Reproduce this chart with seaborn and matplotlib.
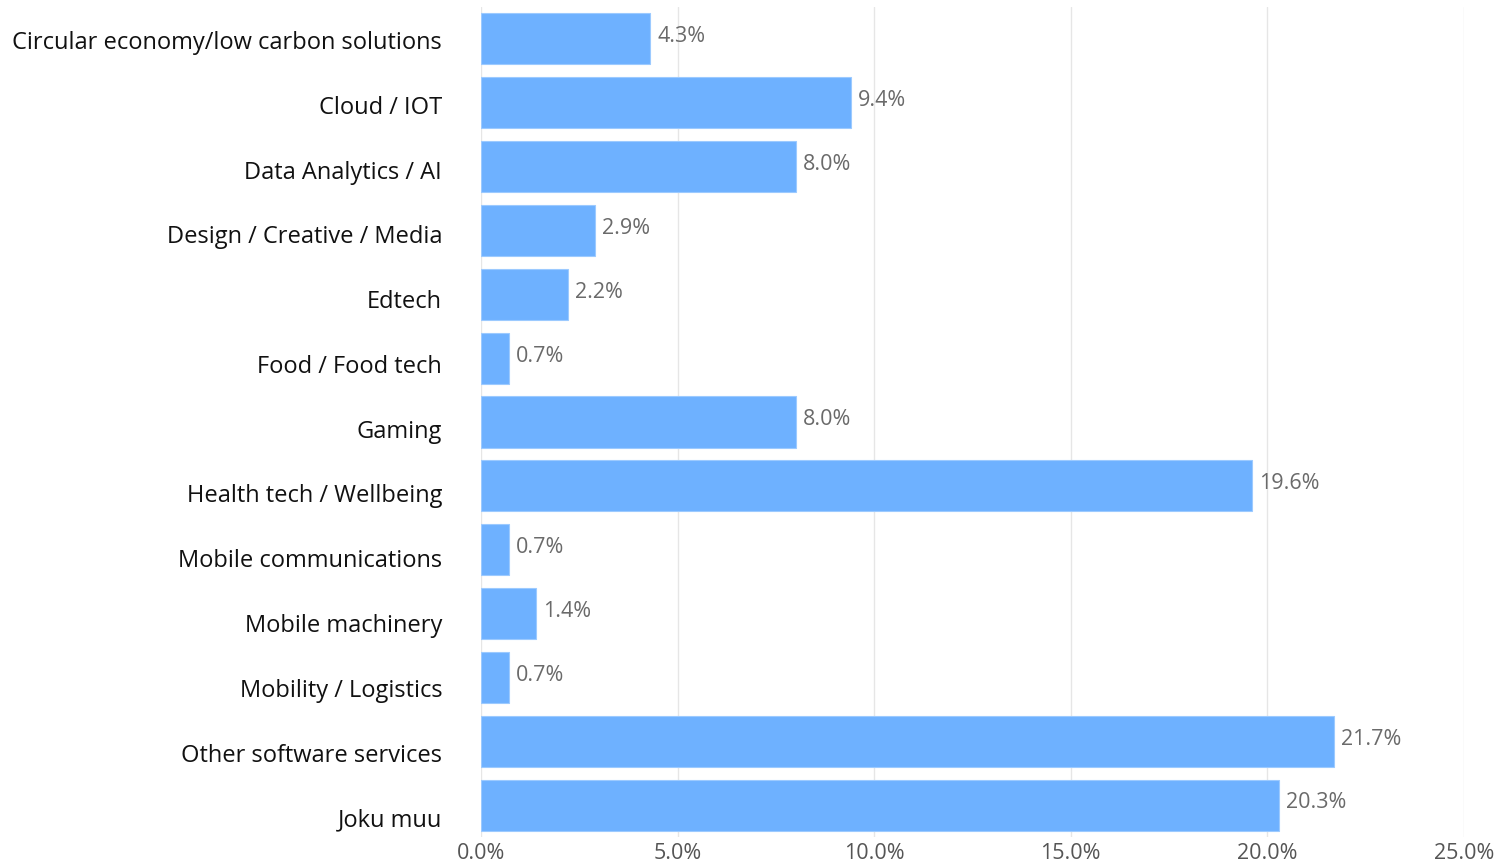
import matplotlib
matplotlib.use("Agg")
import matplotlib.pyplot as plt
import matplotlib.transforms as mtransforms
import seaborn as sns
import pandas as pd

categories = [
    "Circular economy/low carbon solutions",
    "Cloud / IOT",
    "Data Analytics / AI",
    "Design / Creative / Media",
    "Edtech",
    "Food / Food tech",
    "Gaming",
    "Health tech / Wellbeing",
    "Mobile communications",
    "Mobile machinery",
    "Mobility / Logistics",
    "Other software services",
    "Joku muu",
]
shares = [4.3, 9.4, 8.0, 2.9, 2.2, 0.7, 8.0, 19.6, 0.7, 1.4, 0.7, 21.7, 20.3]
tick_values = [0, 5, 10, 15, 20, 25]
tick_labels = ["0.0%", "5.0%", "10.0%", "15.0%", "20.0%", "25.0%"]

df = pd.DataFrame({"category": categories, "share": shares})

sns.set_style("white")
plt.rcParams["font.family"] = ["Open Sans", "DejaVu Sans"]

fig = plt.figure(figsize=(15.01, 8.65), dpi=100)
ax = fig.add_axes([0.3205, 0.0324, 0.6548, 0.9595])

sns.barplot(data=df, x="share", y="category", orient="h", color="#6EB1FF",
            saturation=1, width=0.8, edgecolor="#9ccaff", linewidth=0.8, ax=ax)

ax.set_xlim(0, 25)
ax.set_xticks(tick_values)
ax.set_xticklabels(tick_labels, fontsize=15.5, color="#555555")
ax.tick_params(axis="x", length=0, pad=4)
ax.tick_params(axis="y", length=0, pad=28, labelsize=17, labelcolor="#111111")
ax.xaxis.grid(True, color="#e6e6e6", linewidth=1)
ax.set_axisbelow(True)
for s in ax.spines.values():
    s.set_visible(False)
ax.set_xlabel("")
ax.set_ylabel("")

# category labels sit slightly lower, drifting a little further down the list
for i, lab in enumerate(ax.get_yticklabels()):
    shift = mtransforms.ScaledTranslation(0, -(1 + i * 0.95) / 100, fig.dpi_scale_trans)
    lab.set_transform(lab.get_transform() + shift)

for patch, v in zip(ax.patches, shares):
    y = patch.get_y() + patch.get_height() / 2
    ax.annotate(f"{v:.1f}%", xy=(patch.get_width(), y), xytext=(5, 1.5),
                textcoords="offset points", ha="left", va="center",
                fontsize=15.5, color="#6a6a6a")

fig.savefig("out.png", dpi=100)
